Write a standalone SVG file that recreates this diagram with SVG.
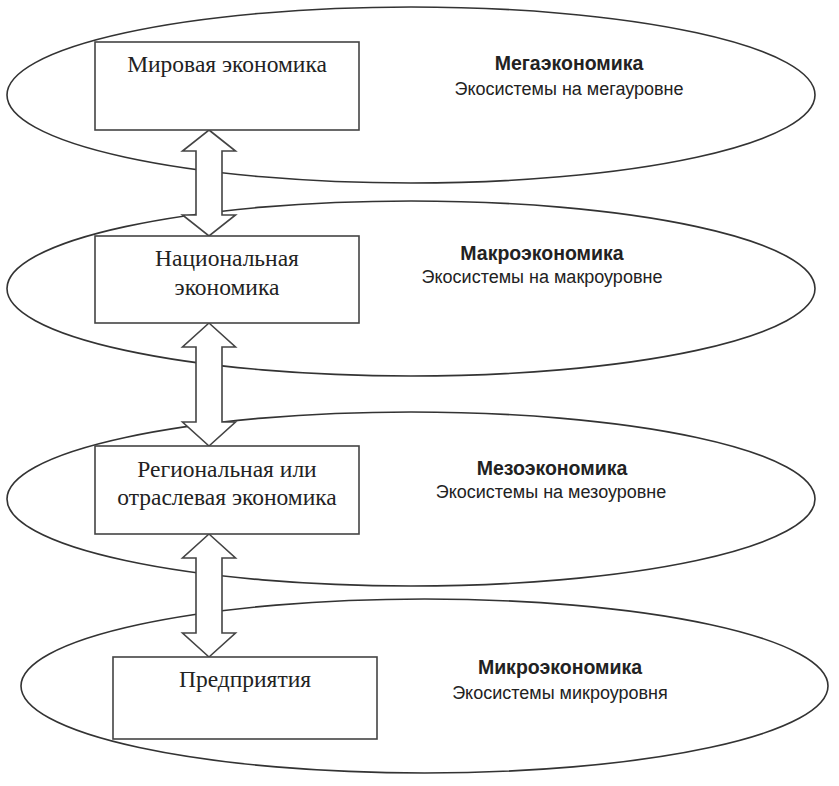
<svg xmlns="http://www.w3.org/2000/svg" width="839" height="786" viewBox="0 0 839 786">
<style>
.ell{fill:#fff;stroke:#333;stroke-width:1.6}
.box{fill:#fff;stroke:#444;stroke-width:1.6}
.arr{fill:#fff;stroke:#444;stroke-width:1.6;stroke-linejoin:miter}
.bt{font-family:"Liberation Serif","Times New Roman",serif;font-size:23.5px;fill:#222;text-anchor:middle}
.h{font-family:"Liberation Sans",Arial,sans-serif;font-size:19.5px;font-weight:bold;fill:#222;text-anchor:middle}
.s{font-family:"Liberation Sans",Arial,sans-serif;font-size:18px;fill:#222;text-anchor:middle}
</style>
<rect width="839" height="786" fill="#fff"/>
<g id="levels">
<g id="mega"><ellipse class="ell" cx="411" cy="95" rx="404" ry="88"/>
<text class="h" x="569" y="70">Мегаэкономика</text>
<text class="s" x="569" y="95">Экосистемы на мегауровне</text></g>
<g id="macro"><ellipse class="ell" cx="411" cy="288.5" rx="404" ry="87.5"/>
<text class="h" x="542" y="260">Макроэкономика</text>
<text class="s" x="542" y="283">Экосистемы на макроуровне</text></g>
<g id="meso"><ellipse class="ell" cx="411" cy="499" rx="404" ry="87"/>
<text class="h" x="552" y="475">Мезоэкономика</text>
<text class="s" x="551" y="498">Экосистемы на мезоуровне</text></g>
<g id="micro"><ellipse class="ell" cx="424.5" cy="686" rx="403.5" ry="87"/>
<text class="h" x="560" y="674">Микроэкономика</text>
<text class="s" x="560" y="699">Экосистемы микроуровня</text></g>
</g>
<g id="connectors">
<path class="arr" d="M209,130 L235.5,151 L222,151 L222,215 L235.5,215 L209,236 L182.5,215 L196,215 L196,151 L182.5,151 Z"/>
<path class="arr" d="M209,323 L235.5,347 L222,347 L222,422 L235.5,422 L209,446 L182.5,422 L196,422 L196,347 L182.5,347 Z"/>
<path class="arr" d="M209,534 L235.5,558 L222,558 L222,633 L235.5,633 L209,657 L182.5,633 L196,633 L196,558 L182.5,558 Z"/>
</g>
<g id="world"><rect class="box" x="95" y="42" width="264" height="88"/>
<text class="bt" x="227" y="72">Мировая экономика</text></g>
<g id="national"><rect class="box" x="95" y="236" width="264" height="87"/>
<text class="bt" x="227" y="266">Национальная</text>
<text class="bt" x="227" y="295">экономика</text></g>
<g id="regional"><rect class="box" x="95" y="446" width="264" height="88"/>
<text class="bt" x="227" y="477">Региональная или</text>
<text class="bt" x="227" y="505">отраслевая экономика</text></g>
<g id="enterprise"><rect class="box" x="113" y="657" width="264" height="82"/>
<text class="bt" x="245" y="687">Предприятия</text></g>
</svg>
